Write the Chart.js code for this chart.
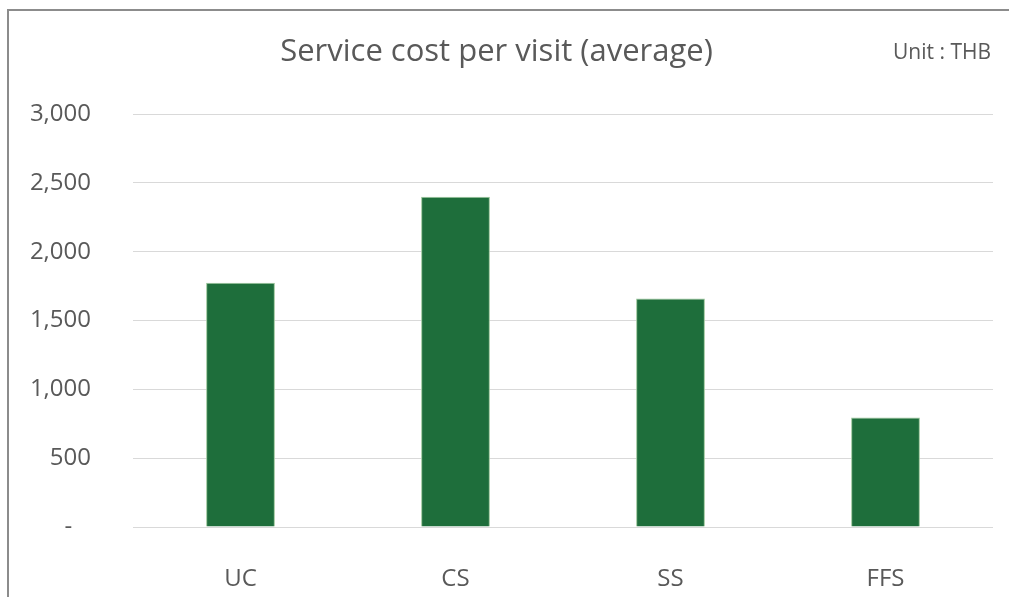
<!DOCTYPE html>
<html>
<head>
<meta charset="utf-8">
<script src="https://cdn.jsdelivr.net/npm/chart.js@4"></script>
<style>
    body { margin: 0; background: #fff; }
    #frame {
        position: absolute; left: 7px; top: 9px; width: 1010px; height: 600px;
        border-left: 2px solid #8c8c8c; border-top: 2px solid #8c8c8c;
    }
    #wrap { position: absolute; left: 0; top: 0; width: 1009px; height: 597px; }
</style>
</head>
<body>
<div id="frame"></div>
<div id="wrap"><canvas id="chart"></canvas></div>
<script>
const categories = ['UC', 'CS', 'SS', 'FFS'];
const costPerVisit = [1775, 2400, 1660, 795];
const tickValues = [0, 500, 1000, 1500, 2000, 2500, 3000];

const FONT = '"Open Sans", "Noto Sans", sans-serif';
const TEXT = '#595959';

// accounting style: zero shows as a dash
const FormatTick = function (value) {
    if (value === 0) return '-   ';
    return value.toLocaleString('en-US');
}

// unit note drawn at the top right, next to the title
const unitNote = {
    id: 'unitNote',
    afterDraw(chart) {
        const ctx = chart.ctx;
        ctx.save();
        ctx.font = '21px ' + FONT;
        ctx.fillStyle = TEXT;
        ctx.textAlign = 'right';
        ctx.textBaseline = 'middle';
        ctx.fillText('Unit : THB', chart.width - 18, 53);
        ctx.restore();
    }
};

const ctx = document.getElementById('chart').getContext('2d');
new Chart(ctx, {
    type: 'bar',
    data: {
        labels: categories,
        datasets: [{
            label: 'Service cost per visit',
            data: costPerVisit,
            backgroundColor: '#1e6e3b',
            borderColor: '#9cc79a',
            borderWidth: 1,
            categoryPercentage: 1,
            barPercentage: 0.32
        }]
    },
    plugins: [unitNote],
    options: {
        responsive: true,
        maintainAspectRatio: false,
        animation: false,
        layout: { padding: { left: 0, right: 16, top: 0, bottom: 0 } },
        scales: {
            x: {
                grid: { display: false },
                border: { display: false },
                ticks: { color: TEXT, font: { family: FONT, size: 24 }, padding: 30 },
                afterFit: (scale) => { scale.height = 70; }
            },
            y: {
                min: 0,
                max: 3000,
                afterBuildTicks: (scale) => { scale.ticks = tickValues.map(v => ({ value: v })); },
                grid: { color: '#d9d9d9', lineWidth: 1, drawTicks: false },
                border: { display: false },
                ticks: {
                    color: TEXT,
                    font: { family: FONT, size: 24 },
                    padding: 42,
                    callback: FormatTick
                },
                afterFit: (scale) => { scale.width = 133; }
            }
        },
        plugins: {
            legend: { display: false },
            tooltip: { enabled: false },
            title: {
                display: true,
                text: 'Service cost per visit (average)',
                color: TEXT,
                font: { family: FONT, size: 31, weight: 'normal' },
                padding: { top: 34, bottom: 43 }
            }
        }
    }
});
</script>
</body>
</html>
